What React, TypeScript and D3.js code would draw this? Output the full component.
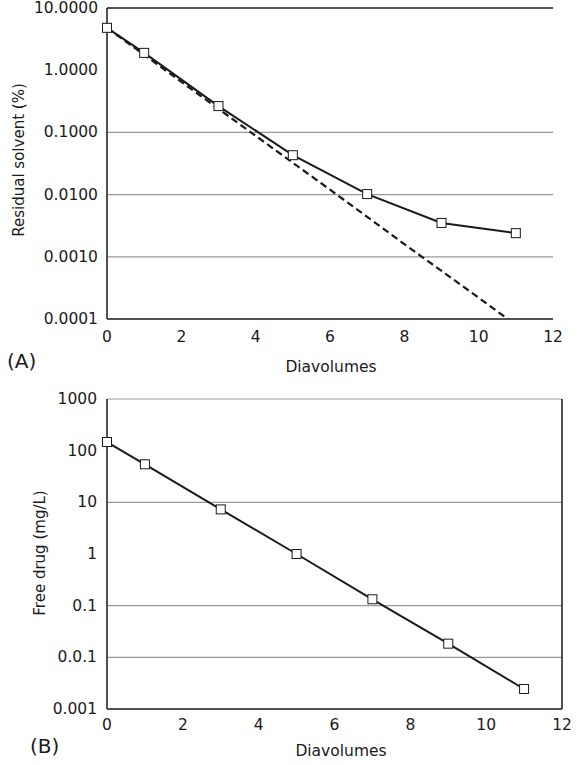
import React, { useEffect } from 'react';
import * as d3 from 'd3';

// Panel A: residual solvent
const solventX = [0, 1, 3, 5, 7, 9, 11];
const solventY = [4.8, 1.9, 0.265, 0.043, 0.0102, 0.0035, 0.0024];
const theoryX = [0, 2, 4, 6, 8, 10, 11];
const theoryY = [4.8, 0.65, 0.088, 0.012, 0.0016, 0.00022, 0.00008];
const solventTicks = [10, 1, 0.1, 0.01, 0.001, 0.0001];
const solventTickLabels = ['10.0000', '1.0000', '0.1000', '0.0100', '0.0010', '0.0001'];
const solventGrid = [0.1, 0.01, 0.001];

// Panel B: free drug
const drugX = [0, 1, 3, 5, 7, 9, 11];
const drugY = [147, 54.5, 7.3, 1.0, 0.133, 0.0184, 0.00244];
const drugTicks = [1000, 100, 10, 1, 0.1, 0.01, 0.001];
const drugTickLabels = ['1000', '100', '10', '1', '0.1', '0.0.1', '0.001'];
const drugGrid = [1000, 10, 0.1, 0.01];

const xTicks = [0, 2, 4, 6, 8, 10, 12];

const FONT = 'DejaVu Sans, sans-serif';
const INK = '#1a1a1a';

const App: React.FC = () => {
  useEffect(() => {
    document.body.style.margin = '0';
  }, []);

  // panel A scales
  const xA = d3.scaleLinear().domain([0, 12]).range([107, 553]);
  const yA = d3.scaleLog().domain([0.0001, 10]).range([319, 8]);
  // panel B scales
  const xB = d3.scaleLinear().domain([0, 12]).range([107, 562]);
  const yB = d3.scaleLog().domain([0.001, 1000]).range([709, 399]);

  const lineA = d3.line<number>().x((d, i) => xA(solventX[i])).y(d => yA(d));
  const lineTheory = d3.line<number>().x((d, i) => xA(theoryX[i])).y(d => yA(d));
  const lineB = d3.line<number>().x((d, i) => xB(drugX[i])).y(d => yB(d));

  const sq = 9;

  return (
    <svg width={586} height={765} style={{ display: 'block', background: '#fff' }} fontFamily={FONT}>
      <defs>
        <clipPath id="clipA">
          <rect x={107} y={8} width={446} height={311} />
        </clipPath>
      </defs>

      {/* ---------- Panel A ---------- */}
      {solventGrid.map(v => (
        <line key={v} x1={107} x2={553} y1={yA(v)} y2={yA(v)} stroke="#9a9a9a" strokeWidth={1.2} />
      ))}
      <line x1={107} x2={553} y1={yA(10)} y2={yA(10)} stroke={INK} strokeWidth={1.5} />
      <line x1={107} x2={107} y1={8} y2={319} stroke={INK} strokeWidth={1.5} />
      <line x1={107} x2={553} y1={319} y2={319} stroke={INK} strokeWidth={1.5} />

      {solventTicks.map((v, i) => (
        <text key={v} x={98} y={yA(v)} textAnchor="end" dominantBaseline="central" fontSize={15.5} fill={INK}>
          {solventTickLabels[i]}
        </text>
      ))}
      {xTicks.map(v => (
        <text key={v} x={xA(v)} y={342} textAnchor="middle" fontSize={15.5} fill={INK}>{v}</text>
      ))}
      <text x={331} y={372} textAnchor="middle" fontSize={15.5} fill={INK}>Diavolumes</text>
      <text transform="translate(19,160) rotate(-90)" textAnchor="middle" dominantBaseline="central" fontSize={15} fill={INK}>
        Residual solvent (%)
      </text>
      <text x={7} y={368} fontSize={20} fill={INK}>(A)</text>

      <g clipPath="url(#clipA)">
        <path d={lineTheory(theoryY) || ''} fill="none" stroke={INK} strokeWidth={2.2} strokeDasharray="7,4" />
      </g>
      <path d={lineA(solventY) || ''} fill="none" stroke={INK} strokeWidth={2} />
      {solventY.map((v, i) => (
        <rect key={i} x={xA(solventX[i]) - sq / 2} y={yA(v) - sq / 2} width={sq} height={sq}
          fill="#fff" stroke={INK} strokeWidth={1} />
      ))}

      {/* ---------- Panel B ---------- */}
      {drugGrid.map(v => (
        <line key={v} x1={107} x2={562} y1={yB(v)} y2={yB(v)} stroke="#9a9a9a" strokeWidth={1.2} />
      ))}
      <line x1={107} x2={107} y1={399} y2={709} stroke={INK} strokeWidth={1.5} />
      <line x1={562} x2={562} y1={399} y2={709} stroke={INK} strokeWidth={1.5} />
      <line x1={107} x2={562} y1={709} y2={709} stroke={INK} strokeWidth={1.5} />

      {drugTicks.map((v, i) => (
        <text key={v} x={97} y={yB(v)} textAnchor="end" dominantBaseline="central" fontSize={15.5} fill={INK}>
          {drugTickLabels[i]}
        </text>
      ))}
      {xTicks.map(v => (
        <text key={v} x={xB(v)} y={730} textAnchor="middle" fontSize={15.5} fill={INK}>{v}</text>
      ))}
      <text x={341} y={756} textAnchor="middle" fontSize={15.5} fill={INK}>Diavolumes</text>
      <text transform="translate(40,553) rotate(-90)" textAnchor="middle" dominantBaseline="central" fontSize={15} fill={INK}>
        Free drug (mg/L)
      </text>
      <text x={30} y={753} fontSize={20} fill={INK}>(B)</text>

      <path d={lineB(drugY) || ''} fill="none" stroke={INK} strokeWidth={2} />
      {drugY.map((v, i) => (
        <rect key={i} x={xB(drugX[i]) - sq / 2} y={yB(v) - sq / 2} width={sq} height={sq}
          fill="#fff" stroke={INK} strokeWidth={1} />
      ))}
    </svg>
  );
};

export default App;
